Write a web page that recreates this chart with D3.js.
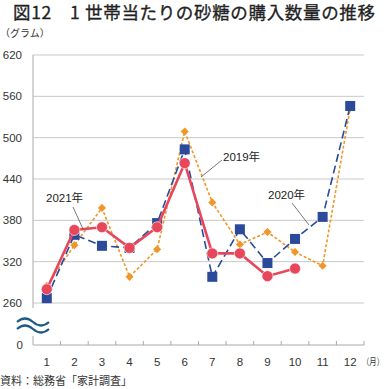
<!DOCTYPE html>
<html>
<head>
<meta charset="utf-8">
<script src="https://cdn.jsdelivr.net/npm/d3@7"></script>
<style>
  body { margin: 0; background: #fff; }
  svg { display: block; font-family: "Liberation Sans", "Noto Sans CJK JP", sans-serif; }
</style>
</head>
<body>
<svg width="388" height="389"></svg>
<script>
var svg = d3.select('svg');

// data
var months = ['1','2','3','4','5','6','7','8','9','10','11','12'];
var y2019 = [285, 344, 398, 298, 338, 509, 406, 345, 363, 334, 314, 543];
var y2020 = [267, 359, 343, 340, 376, 483, 298, 367, 318, 353, 385, 546];
var y2021 = [280, 366, 370, 340, 370, 463, 332, 332, 299, 310];
var yTicks = [260, 320, 380, 440, 500, 560, 620];

var pl = 33, pr = 364, pt = 55, pb = 303, axisY = 345;

var x = d3.scaleBand().domain(months).range([pl, pr]);
var y = d3.scaleLinear().domain([260, 620]).range([pb, pt]);
function cx(d, i) { return x(months[i]) + x.bandwidth() / 2 }

// title
svg.append('text').attr('x', 13).attr('y', 19)
  .attr('font-family', 'Noto Sans CJK JP').attr('font-size', 17.5)
  .attr('textLength', 362).attr('lengthAdjust', 'spacing')
  .attr('fill', '#222').attr('stroke', '#222').attr('stroke-width', 0.3)
  .text('図12　1 世帯当たりの砂糖の購入数量の推移');

svg.append('text').attr('x', 0).attr('y', 37)
  .attr('font-family', 'Noto Sans CJK JP').attr('font-size', 10).attr('fill', '#333')
  .text('（グラム）');

// gridlines
svg.selectAll('line.grid').data(yTicks).enter()
  .append('line').attr('class', 'grid')
  .attr('x1', pl).attr('x2', pr)
  .attr('y1', function(d) { return y(d) }).attr('y2', function(d) { return y(d) })
  .attr('stroke', '#c8c8c8').attr('stroke-width', 1);

// y labels
svg.selectAll('text.yl').data(yTicks).enter()
  .append('text').attr('class', 'yl')
  .attr('x', 22).attr('y', function(d) { return y(d) + 4 })
  .attr('text-anchor', 'end').attr('font-size', 11.5).attr('fill', '#333')
  .text(function(d) { return d });
svg.append('text').attr('x', 23).attr('y', axisY + 4)
  .attr('text-anchor', 'end').attr('font-size', 11.5).attr('fill', '#333').text('0');

// axes
svg.append('line').attr('x1', pl).attr('x2', pl).attr('y1', pt).attr('y2', 308)
  .attr('stroke', '#aaa');
svg.append('line').attr('x1', pl).attr('x2', pl).attr('y1', 336).attr('y2', axisY)
  .attr('stroke', '#aaa');
svg.append('line').attr('x1', pl).attr('x2', pr).attr('y1', axisY).attr('y2', axisY)
  .attr('stroke', '#aaa');
svg.selectAll('line.xt').data(months).enter()
  .append('line').attr('class', 'xt')
  .attr('x1', function(d) { return x(d) + x.bandwidth() }).attr('x2', function(d) { return x(d) + x.bandwidth() })
  .attr('y1', axisY).attr('y2', axisY - 4).attr('stroke', '#aaa');

// axis break
[0, 7].forEach(function(o) {
  svg.append('path')
    .attr('d', 'M17,' + (322 + o) + ' q8,-7 16,0 q8,7 16,0')
    .attr('fill', 'none').attr('stroke', '#1d5a88').attr('stroke-width', 2.2);
});

// x labels
svg.selectAll('text.xl').data(months).enter()
  .append('text').attr('class', 'xl')
  .attr('x', function(d) { return x(d) + x.bandwidth() / 2 }).attr('y', 366)
  .attr('text-anchor', 'middle').attr('font-size', 11.5).attr('fill', '#333')
  .text(function(d) { return d });
svg.append('text').attr('x', 362).attr('y', 365)
  .attr('font-family', 'Noto Sans CJK JP').attr('font-size', 9).attr('fill', '#333')
  .attr('textLength', 22).attr('lengthAdjust', 'spacingAndGlyphs')
  .text('（月）');

svg.append('text').attr('x', 0).attr('y', 385)
  .attr('font-family', 'Noto Sans CJK JP').attr('font-size', 11).attr('fill', '#333')
  .text('資料：総務省「家計調査」');

var line = d3.line().x(cx).y(function(d) { return y(d) });

// 2019
svg.append('path').datum(y2019).attr('d', line)
  .attr('fill', 'none').attr('stroke', '#f0962a').attr('stroke-width', 1.6).attr('stroke-dasharray', '3,2');
svg.selectAll('path.dia').data(y2019).enter()
  .append('path').attr('class', 'dia')
  .attr('d', d3.symbol().type(d3.symbolDiamond2).size(42))
  .attr('transform', function(d, i) { return 'translate(' + cx(d, i) + ',' + y(d) + ')' })
  .attr('fill', '#f0962a');

// 2020
svg.append('path').datum(y2020).attr('d', line)
  .attr('fill', 'none').attr('stroke', '#2b4a9b').attr('stroke-width', 1.6).attr('stroke-dasharray', '8,4');
svg.selectAll('rect.sq').data(y2020).enter()
  .append('rect').attr('class', 'sq')
  .attr('x', function(d, i) { return cx(d, i) - 5 }).attr('y', function(d) { return y(d) - 5 })
  .attr('width', 10).attr('height', 10)
  .attr('fill', '#2b4a9b');

// 2021
svg.append('path').datum(y2021).attr('d', line)
  .attr('fill', 'none').attr('stroke', '#e8475b').attr('stroke-width', 2.6);
svg.selectAll('circle.c').data(y2021).enter()
  .append('circle').attr('class', 'c')
  .attr('cx', cx).attr('cy', function(d) { return y(d) }).attr('r', 5.5)
  .attr('fill', '#e8475b').attr('stroke', '#fff').attr('stroke-width', 0.6);

// labels
function label(t, tx, ty, l) {
  svg.append('line').attr('x1', l[0]).attr('y1', l[1]).attr('x2', l[2]).attr('y2', l[3])
    .attr('stroke', '#555').attr('stroke-width', 0.8);
  svg.append('text').attr('x', tx).attr('y', ty).attr('font-size', 11.5).attr('fill', '#222').text(t);
}
label('2021年', 46, 202, [73, 207, 83, 229]);
label('2019年', 223, 161, [222, 160, 201, 177]);
label('2020年', 268, 199, [292, 203, 309, 225]);
</script>
</body>
</html>
